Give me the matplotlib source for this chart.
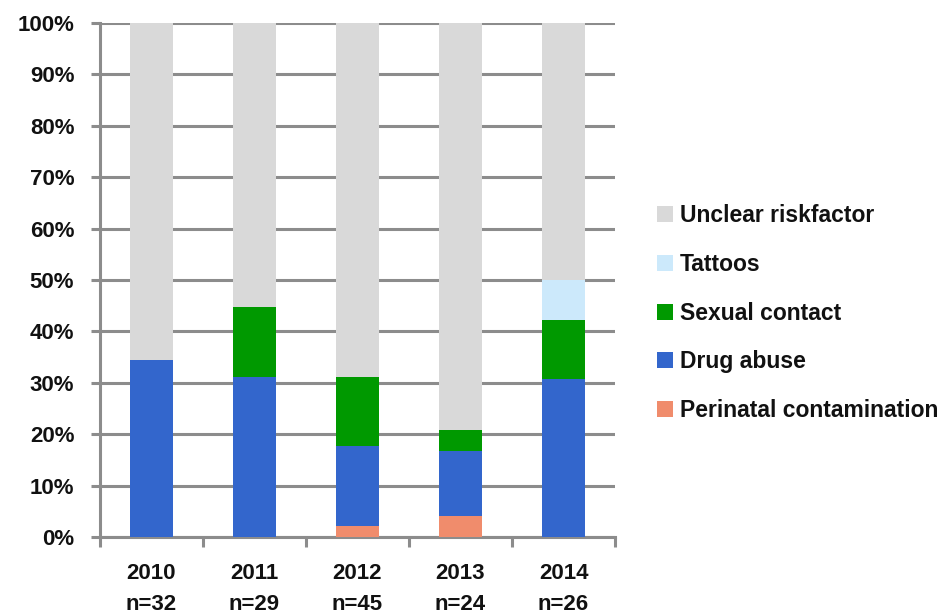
import matplotlib
matplotlib.use("Agg")
import matplotlib.pyplot as plt
import numpy as np

plt.rcParams['font.family'] = ['Liberation Sans', 'DejaVu Sans']
plt.rcParams['font.weight'] = 'bold'

years = ['2010', '2011', '2012', '2013', '2014']
n_cases = [32, 29, 45, 24, 26]

# case counts per risk factor, bottom of the stack first
perinatal = [0, 0, 1, 1, 0]
drug_abuse = [11, 9, 7, 3, 8]
sexual = [0, 4, 6, 1, 3]
tattoos = [0, 0, 0, 0, 2]
unclear = [21, 16, 31, 19, 13]

series = [
    ('Perinatal contamination', perinatal, '#f08c6c'),
    ('Drug abuse', drug_abuse, '#3366cc'),
    ('Sexual contact', sexual, '#009900'),
    ('Tattoos', tattoos, '#cce9fb'),
    ('Unclear riskfactor', unclear, '#d9d9d9'),
]

grid_col = '#8c8c8c'
text_col = '#111111'

fig = plt.figure(figsize=(9.45, 6.14), dpi=100)
ax = fig.add_axes([0.1058, 0.1254, 0.545, 0.8371])

x = np.arange(len(years))
n = np.array(n_cases, dtype=float)
bottom = np.zeros(len(years))
handles = []
for label, counts, color in series:
    pct = np.array(counts) / n * 100
    h = ax.bar(x, pct, 0.41, bottom=bottom, color=color, label=label, zorder=3)
    handles.append(h)
    bottom += pct

ax.set_xlim(-0.5, len(years) - 0.5)
ax.set_ylim(0, 100)
ax.set_yticks(np.arange(0, 101, 10))
ax.set_yticklabels([f'{v}%' for v in range(0, 101, 10)])
ax.yaxis.grid(True, color=grid_col, linewidth=2.2, zorder=0)
ax.set_axisbelow(True)

ax.set_xticks(x)
ax.set_xticklabels([f'{y}\nn={c}' for y, c in zip(years, n_cases)], linespacing=1.6)
ax.set_xticks(np.arange(-0.5, len(years), 1), minor=True)
ax.tick_params(axis='x', which='major', length=0, pad=19, labelsize=16, labelcolor=text_col)
ax.tick_params(axis='x', which='minor', length=7, width=2.2, color=grid_col, direction='out')
ax.tick_params(axis='y', length=6.5, width=2.2, color=grid_col, pad=12, labelsize=16, labelcolor=text_col)

for side in ['top', 'right']:
    ax.spines[side].set_visible(False)
for side in ['left', 'bottom']:
    ax.spines[side].set_color(grid_col)
    ax.spines[side].set_linewidth(2.2)

fig.legend(handles[::-1], [s[0] for s in series][::-1], loc='center left',
           bbox_to_anchor=(0.695, 0.49), frameon=False, fontsize=16.5,
           handlelength=0.7, handleheight=0.7, handletextpad=0.3,
           labelspacing=1.12, labelcolor=text_col, borderaxespad=0, borderpad=0)

fig.savefig('out.png', dpi=100)
